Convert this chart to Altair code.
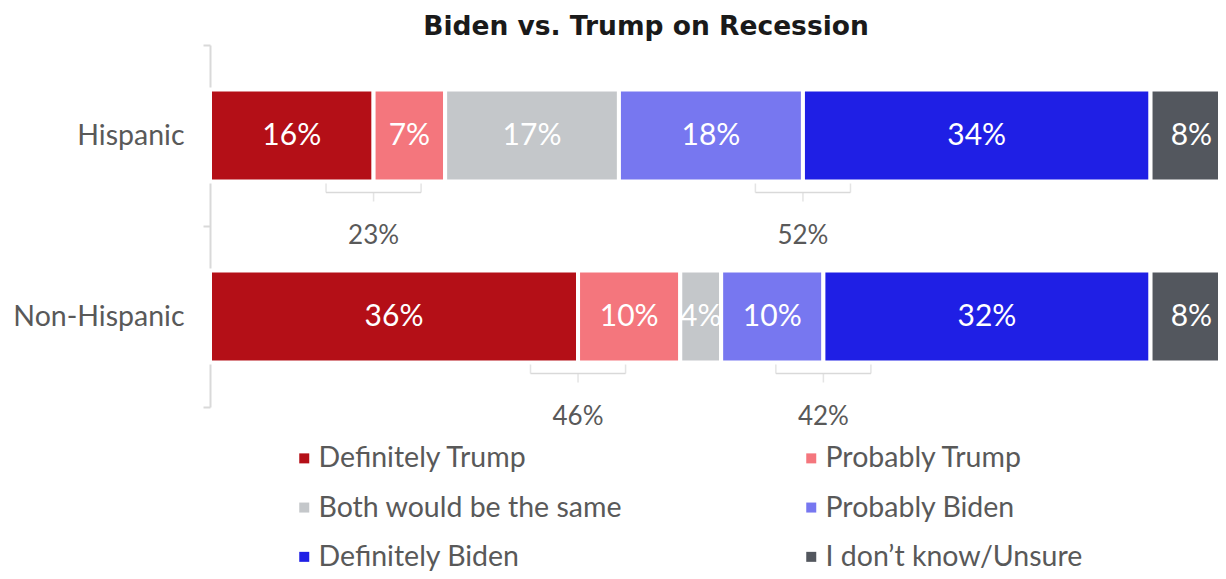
import altair as alt
import pandas as pd

groups = ["Hispanic", "Non-Hispanic"]
responses = ["Definitely Trump", "Probably Trump", "Both would be the same",
             "Probably Biden", "Definitely Biden", "I don’t know/Unsure"]
hispanic = [16, 7, 17, 18, 34, 8]
non_hispanic = [36, 10, 4, 10, 32, 8]
trump_net = [23, 46]
biden_net = [52, 42]
colors = ["#B40F17", "#F4767D", "#C4C7CA", "#7777F0", "#1F1FE5", "#53575E"]
# legend is filled column by column; this order shows it row by row
legend_order = [0, 2, 4, 1, 3, 5]

FONT = "Lato"
GRAY = "#595959"
LINE = "#D9D9D9"

rows = []
for g, vals in zip(groups, [hispanic, non_hispanic]):
    cum = 0
    for i, (r, v) in enumerate(zip(responses, vals)):
        rows.append({"Group": g, "Response": r, "order": i, "value": v,
                     "start": cum, "end": cum + v, "mid": cum + v / 2,
                     "label": f"{v}%"})
        cum += v
df = pd.DataFrame(rows)

half = 4.65
br = []
for g, vals, tn, bn in zip(groups, [hispanic, non_hispanic], trump_net, biden_net):
    c1 = vals[0]
    c2 = sum(vals[:4])
    br.append({"Group": g, "c": c1, "l": c1 - half, "r": c1 + half, "label": f"{tn}%"})
    br.append({"Group": g, "c": c2, "l": c2 - half, "r": c2 + half, "label": f"{bn}%"})
bdf = pd.DataFrame(br)
ends = pd.concat([bdf[["Group", "l"]].rename(columns={"l": "p"}),
                  bdf[["Group", "r"]].rename(columns={"r": "p"})])

xs = alt.Scale(domain=[0, 98.6], nice=False, zero=False)
ys = alt.Scale(domain=groups, paddingInner=0, paddingOuter=0)

yenc = alt.Y("Group:N", scale=ys, title=None, sort=groups,
             axis=alt.Axis(domainColor=LINE, domainWidth=2, tickColor=LINE,
                           tickWidth=2, tickSize=7, tickBand="extent",
                           labelFontSize=28.5, labelColor=GRAY, labelFont=FONT,
                           labelPadding=19, grid=False))

leg_dom = [responses[i] for i in legend_order]
leg_rng = [colors[i] for i in legend_order]

bars = alt.Chart(df).mark_bar(stroke="white", strokeWidth=4, height=92).encode(
    x=alt.X("start:Q", scale=xs, axis=None),
    x2="end:Q",
    y=yenc,
    color=alt.Color("Response:N", scale=alt.Scale(domain=leg_dom, range=leg_rng),
                    legend=alt.Legend(title=None, orient="none", legendX=80, legendY=399,
                                      columns=2, columnPadding=174, rowPadding=20.3,
                                      symbolType="square", symbolSize=100,
                                      symbolStrokeWidth=0, labelFontSize=28.5,
                                      labelColor=GRAY, labelFont=FONT,
                                      labelOffset=0, labelLimit=0, padding=0)),
    order="order:Q",
)

labels = alt.Chart(df).mark_text(color="white", fontSize=30, font=FONT).encode(
    x=alt.X("mid:Q", scale=xs, axis=None),
    y=alt.Y("Group:N", scale=ys, sort=groups),
    text="label:N",
)

hline = alt.Chart(bdf).mark_rule(color=LINE, strokeWidth=1.5, yOffset=57).encode(
    x=alt.X("l:Q", scale=xs, axis=None), x2="r:Q",
    y=alt.Y("Group:N", scale=ys, sort=groups),
)
endticks = alt.Chart(ends).mark_tick(color=LINE, thickness=1.5, size=9, yOffset=52.5).encode(
    x=alt.X("p:Q", scale=xs, axis=None),
    y=alt.Y("Group:N", scale=ys, sort=groups),
)
centicks = alt.Chart(bdf).mark_tick(color=LINE, thickness=1.5, size=9, yOffset=61.5).encode(
    x=alt.X("c:Q", scale=xs, axis=None),
    y=alt.Y("Group:N", scale=ys, sort=groups),
)
btext = alt.Chart(bdf).mark_text(color=GRAY, fontSize=26, font=FONT, yOffset=100).encode(
    x=alt.X("c:Q", scale=xs, axis=None),
    y=alt.Y("Group:N", scale=ys, sort=groups),
    text="label:N",
)

chart = alt.layer(bars, labels, hline, endticks, centicks, btext).properties(
    width=1008, height=362,
    title=alt.TitleParams("Biden vs. Trump on Recession", fontSize=26.5, fontWeight="bold",
                          font="DejaVu Sans", color="#1A1A1A", anchor="middle", dx=-68,
                          offset=-9),
    autosize=alt.AutoSizeParams(type="none"),
    padding={"left": 202, "top": 37, "right": 0, "bottom": 164},
).configure(background="white").configure_view(stroke=None)

chart.save("out.html", embed_options={"renderer": "svg", "actions": False})
